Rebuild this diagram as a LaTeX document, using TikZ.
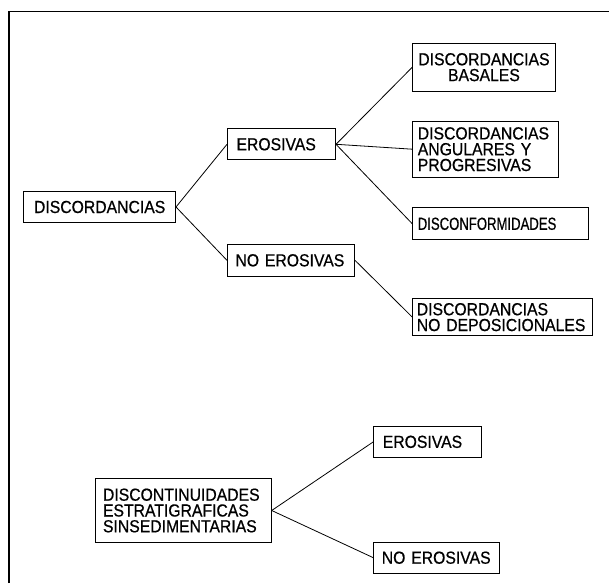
\documentclass[tikz,border=0pt]{standalone}
\usepackage{fontspec}
\setmainfont{Liberation Sans}[FakeStretch=0.9, FakeBold=0.6]
\newfontfamily\narrowfont{Liberation Sans}[FakeStretch=0.75, FakeBold=0.6]
\usepackage{tikz}
\usetikzlibrary{positioning}
\hyphenpenalty=10000

\begin{document}
\begin{tikzpicture}[
  x=1pt, y=1pt,
  every node/.style={font=\fontsize{17.5}{15.8}\selectfont},
  box/.style={draw=black, line width=1pt, anchor=north west, inner ysep=0pt, inner xsep=5pt, align=left},
  link/.style={line width=0.8pt, draw=black},
  frame/.style={line width=1.2pt, draw=black}
]
\useasboundingbox (0,0) rectangle (609,583);
% outer frame (only top and left edges show)
\draw[frame] (9,0) |- (609,571.7);

% upper tree
\node[box, align=center, text width=141.7pt, minimum height=31.6pt] (disc) at (23.3,392.3) {DISCORDANCIAS};
\node[box, inner xsep=9pt, text width=90pt, minimum height=31pt] (eros) at (227,454.7) {EROSIVAS};
\node[box, inner xsep=8pt, text width=111pt, minimum height=31.7pt] (noeros) at (227,339) {NO EROSIVAS};
\node[box, align=center, text width=132.3pt, minimum height=48pt] (basal) at (412.3,540.3) {DISCORDANCIAS\\BASALES};
\node[box, text width=136pt, minimum height=56pt] (angul) at (412.3,462.3) {DISCORDANCIAS\\ANGULARES Y\\PROGRESIVAS};
\node[box, text width=166pt, minimum height=32pt] (disconf) at (412.3,375.7) {\narrowfont DISCONFORMIDADES};
\node[box, inner xsep=4pt, text width=171.4pt, minimum height=36.7pt] (nodep) at (412.3,284.7) {DISCORDANCIAS\\NO DEPOSICIONALES};

\draw[link] (disc.east) -- (eros.west);
\draw[link] (disc.east) -- (noeros.west);
\draw[link] (eros.east) -- (basal.west);
\draw[link] (eros.east) -- (angul.west);
\draw[link] (eros.east) -- (disconf.west);
\draw[link] (noeros.east) -- (nodep.west);

% lower tree
\node[box, inner xsep=7.5pt, text width=160.7pt, minimum height=63.4pt] (discont) at (95,104.7) {DISCONTINUIDADES\\ESTRATIGRAFICAS\\SINSEDIMENTARIAS};
\node[box, inner xsep=9pt, text width=89.7pt, minimum height=30.7pt] (eros2) at (373.3,157) {EROSIVAS};
\node[box, inner xsep=8pt, text width=110pt, minimum height=31pt] (noeros2) at (373.3,41.3) {NO EROSIVAS};

\draw[link] (discont.east) -- (eros2.west);
\draw[link] (discont.east) -- (noeros2.west);
\end{tikzpicture}
\end{document}
